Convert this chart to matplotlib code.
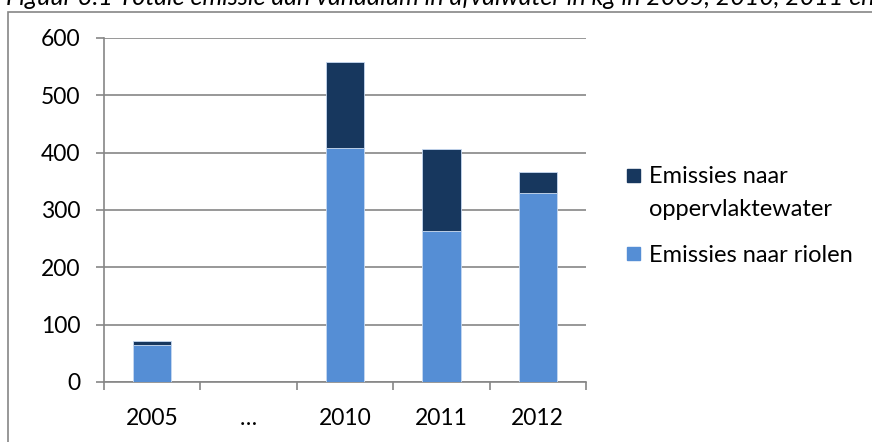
import matplotlib.pyplot as plt
import matplotlib.patches as mpatches
import numpy as np

plt.rcParams["font.family"] = "Lato"

# Daten
jaren = ['2005', '…', '2010', '2011', '2012']
riolen = [65, 0, 408, 263, 330]
oppervlaktewater = [7, 0, 150, 143, 36]

kleuren = {
    "riolen": "#558ED5",
    "oppervlaktewater": "#17375E",
}
grijs = "#868686"
fs = 16.5

W, H = 872, 442
fig = plt.figure(figsize=(W / 100, H / 100), dpi=100)

# Rahmen rund um die Grafik (rechts und unten abgeschnitten)
fig.patches.append(mpatches.Rectangle((7.5 / W, -0.1), 2.0, 1 - 11.5 / H + 0.1,
                                      transform=fig.transFigure, fill=False,
                                      edgecolor=grijs, linewidth=1.2))

# Titel, oben und rechts abgeschnitten wie im Original
fig.text(6 / W, 1 - 5 / H,
         "Figuur 3.1 Totale emissie aan vanadium in afvalwater in kg in 2005, 2010, 2011 en 2012",
         fontsize=18, style='italic', ha='left', va='baseline', color='black')

ax = fig.add_axes([104 / W, 1 - 382 / H, 482 / W, 344 / H])

x = np.arange(len(jaren))
breedte = 0.4
ax.bar(x, riolen, breedte, color=kleuren["riolen"], edgecolor='#c6d9f1', linewidth=0.6,
       zorder=3)
ax.bar(x, oppervlaktewater, breedte, bottom=riolen, color=kleuren["oppervlaktewater"],
       edgecolor='#c6d9f1', linewidth=0.6, zorder=3)

ax.set_xlim(-0.5, len(jaren) - 0.5)
ax.set_ylim(0, 600)
ax.set_yticks(np.arange(0, 601, 100))
ax.set_xticks(x)
ax.set_xticklabels(jaren)
ax.set_xticks(np.arange(-0.5, len(jaren)), minor=True)

ax.tick_params(axis='x', which='major', length=0, pad=19, labelsize=fs)
ax.tick_params(axis='x', which='minor', length=6, width=1.2, color=grijs, direction='out')
ax.tick_params(axis='y', length=6, width=1.2, color=grijs, pad=11, labelsize=fs)

ax.yaxis.grid(True, color=grijs, linewidth=1.2, zorder=0)
ax.set_axisbelow(True)
for s in ['top', 'right']:
    ax.spines[s].set_visible(False)
for s in ['left', 'bottom']:
    ax.spines[s].set_color(grijs)
    ax.spines[s].set_linewidth(1.2)

# Legende von Hand: Quadrat auf Höhe der ersten Textzeile
legende = [
    (kleuren["oppervlaktewater"], ["Emissies naar", "oppervlaktewater"], 175),
    (kleuren["riolen"], ["Emissies naar riolen"], 253),
]
for kleur, regels, ypix in legende:
    fig.patches.append(mpatches.Rectangle((627 / W, 1 - (ypix + 6.5) / H), 13 / W, 13 / H,
                                          transform=fig.transFigure, color=kleur))
    for i, regel in enumerate(regels):
        fig.text(649 / W, 1 - (ypix + i * 33) / H, regel, fontsize=17,
                 ha='left', va='center_baseline', color='black')

fig.savefig('out.png', dpi=100)
